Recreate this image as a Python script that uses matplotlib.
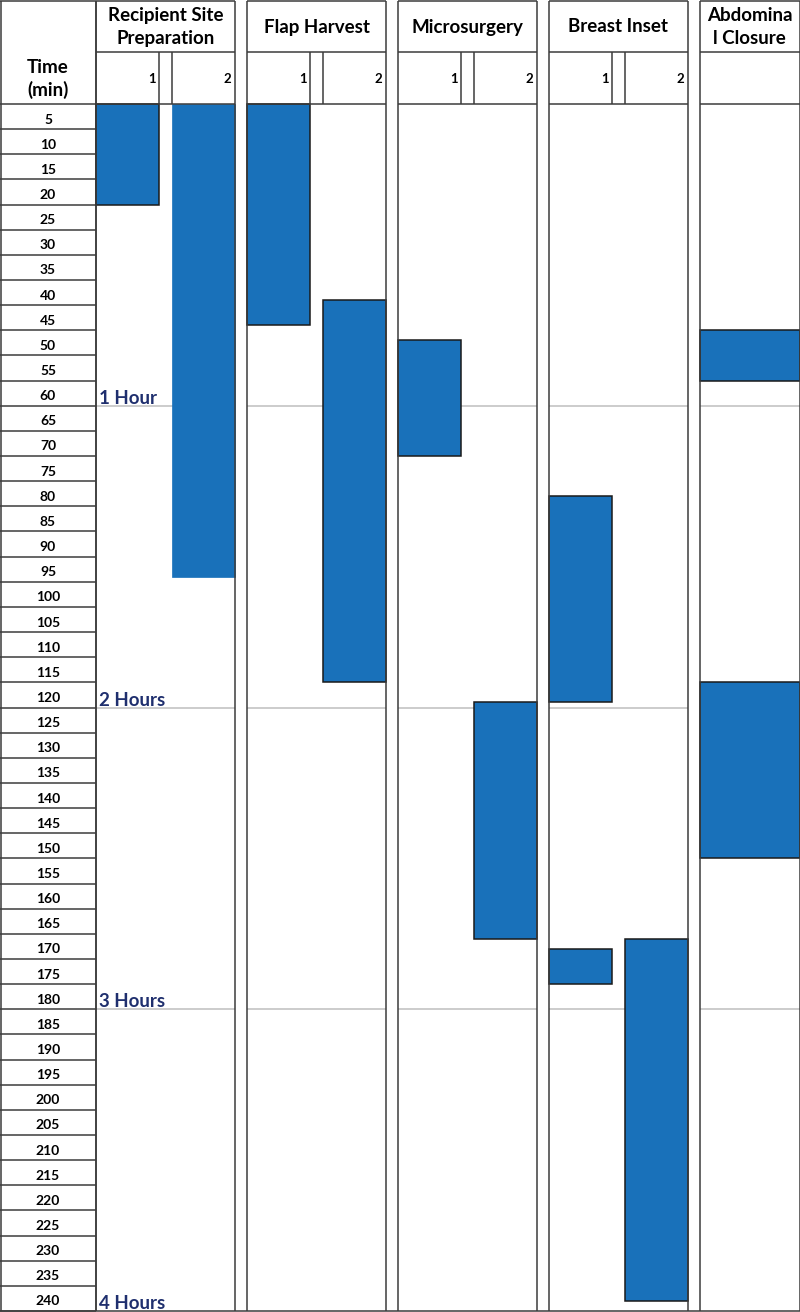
import matplotlib.pyplot as plt
from matplotlib.patches import Rectangle

plt.rcParams['font.family'] = ['Lato', 'DejaVu Sans']

# --- data ---
times = list(range(5, 245, 5))
hour_marks = [60, 120, 180, 240]
hour_labels = ['1 Hour', '2 Hours', '3 Hours', '4 Hours']

phases = ['Recipient Site\nPreparation', 'Flap Harvest', 'Microsurgery',
          'Breast Inset', 'Abdomina\nl Closure']
sub_labels = [['1', '2'], ['1', '2'], ['1', '2'], ['1', '2'], ['']]

# one entry per block: phase, sub column, start (min), end (min)
task_phase = [0, 0, 1, 1, 2, 2, 3, 3, 3, 4, 4]
task_sub = [0, 1, 0, 1, 0, 1, 0, 0, 1, 0, 0]
task_start = [0, 0, 0, 39, 47, 119, 78, 168, 166, 45, 115]
task_end = [20, 94, 44, 115, 70, 166, 119, 175, 238, 55, 150]
task_outline = [True, False, True, True, True, True, True, True, True, True, True]

# --- layout (pixels across, minutes down) ---
PXM = 1207 / 240          # pixels per minute
HEAD = 104                # header height in px
TIME_W = 96
GROUP_X0 = [96, 247, 398, 549, 700]
GROUP_W = [139, 139, 139, 139, 99.5]
SUB_W, SUB_GAP = 63, 13
LINE = '#3c3c3c'
LW = 1.1
BLUE = '#1971BA'
NAVY = '#1f2f6e'


def hy(px):
    """header pixel row -> minutes on the y axis"""
    return (px - HEAD) / PXM


fig = plt.figure(figsize=(8, 13.12), dpi=100)
ax = fig.add_axes([0, 0, 1, 1])
ax.set_xlim(0, 800)
ax.set_ylim(240 + 1 / PXM, hy(0))
ax.axis('off')

# time column
ax.vlines([0.6, TIME_W], hy(0.6), 240, color=LINE, lw=LW)
ax.hlines([hy(0.6), 0] + times, 0, TIME_W, color=LINE, lw=LW)
ax.text(TIME_W / 2, hy(79), 'Time\n(min)', ha='center', va='center',
        fontsize=13.5, fontweight='bold', linespacing=1.35)
for t in times:
    ax.text(TIME_W / 2, t - 1.9, str(t), ha='center', va='center',
            fontsize=10, fontweight='bold')


def sub_span(g, s):
    x0 = GROUP_X0[g]
    if len(sub_labels[g]) == 1:
        return x0, x0 + GROUP_W[g]
    left = x0 + s * (SUB_W + SUB_GAP)
    return left, left + SUB_W


# phase columns
for g, name in enumerate(phases):
    x0 = GROUP_X0[g]
    x1 = x0 + GROUP_W[g]
    # hour grid lines (under the blocks)
    ax.hlines(hour_marks[:-1], x0, x1, color='#c4c4c4', lw=1.2, zorder=1)
    ax.vlines([x0, x1], hy(0.6), 240, color=LINE, lw=LW, zorder=4)
    ax.hlines([hy(0.6), hy(52), 0], x0, x1, color=LINE, lw=LW, zorder=4)
    ax.text((x0 + x1) / 2, hy(27), name, ha='center', va='center',
            fontsize=13.5, fontweight='bold', linespacing=1.45)
    if len(sub_labels[g]) > 1:
        gx = x0 + SUB_W
        ax.vlines([gx, gx + SUB_GAP], hy(52), 0, color=LINE, lw=LW, zorder=4)
    for s, lab in enumerate(sub_labels[g]):
        a, b = sub_span(g, s)
        ax.text(b - 3.5, hy(79), lab, ha='right', va='center',
                fontsize=9.5, fontweight='bold')

# bottom border
ax.hlines(240, 0, 800, color=LINE, lw=LW, zorder=4)

# blocks
for p, s, t0, t1, ol in zip(task_phase, task_sub, task_start, task_end, task_outline):
    a, b = sub_span(p, s)
    ax.add_patch(Rectangle((a, t0), b - a, t1 - t0, facecolor=BLUE,
                           edgecolor='#1a1a1a' if ol else BLUE,
                           lw=LW if ol else 0.5, zorder=2))

# hour labels
for h, lab in zip(hour_marks, hour_labels):
    ax.text(99, h - 0.35, lab, ha='left', va='baseline', color=NAVY,
            fontsize=13.5, fontweight='bold', zorder=5)

fig.savefig('out.png', dpi=100)
